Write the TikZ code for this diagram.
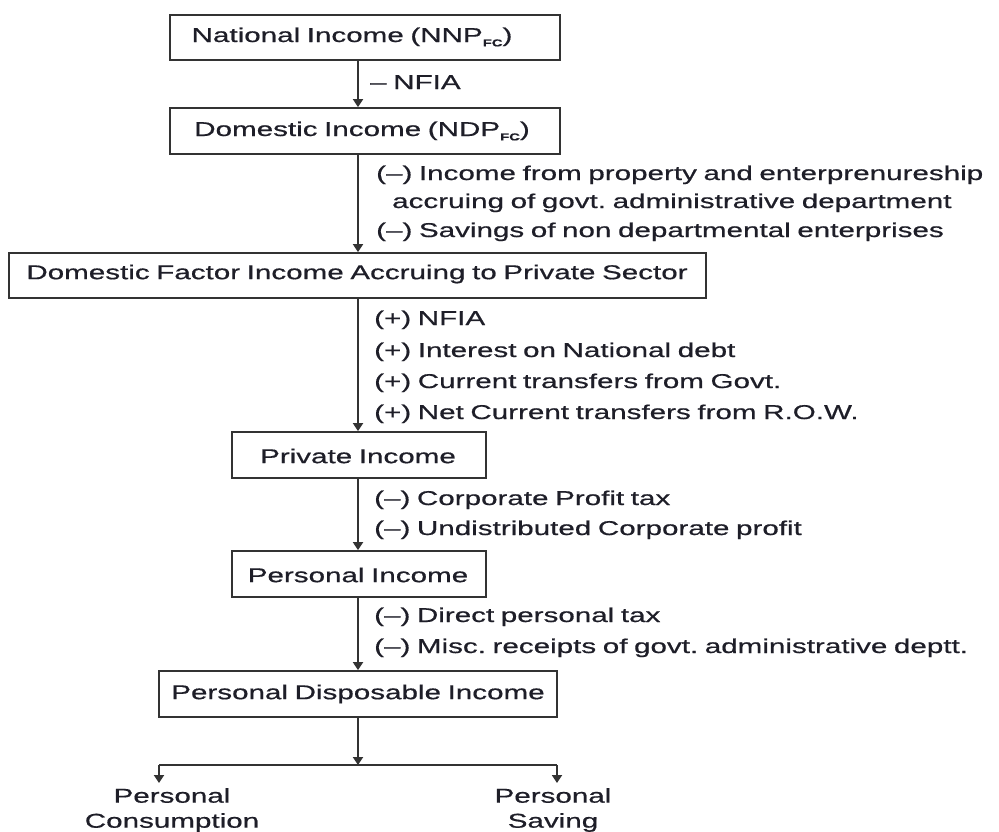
\documentclass[tikz,border=0pt]{standalone}
\usepackage{fontspec}
\setmainfont[FakeStretch=1.48,FakeBold=0.6,WordSpace=0.8]{Liberation Sans}
\usetikzlibrary{arrows.meta}
\definecolor{ink}{HTML}{1E1E28}
\definecolor{linec}{HTML}{333333}
\newcommand{\fcsub}{\raisebox{-0.22em}{\fontsize{10}{10}\selectfont\bfseries FC}}
\frenchspacing
\begin{document}
\begin{tikzpicture}[x=1pt,y=-1pt,
  box/.style={draw=linec,line width=1.8pt,inner sep=0pt,fill=white},
  txt/.style={text=ink,font=\fontsize{20}{20}\selectfont,inner sep=0pt},
  note/.style={txt,anchor=base west},
  arr/.style={draw=linec,line width=1.8pt,-{Triangle[width=10pt,length=8pt]}},
  ln/.style={draw=linec,line width=1.8pt}]
\useasboundingbox (0,0) rectangle (999,831);
\coordinate (axis) at (358,0);
% boxes
\node[box,minimum width=390pt,minimum height=45pt] (b1) at (365,37.5) {};
\node[box,minimum width=390pt,minimum height=46pt] (b2) at (365,131) {};
\node[box,minimum width=697pt,minimum height=45pt] (b3) at (357.5,275.5) {};
\node[box,minimum width=254pt,minimum height=46pt] (b4) at (359,455) {};
\node[box,minimum width=254pt,minimum height=46pt] (b5) at (359,574) {};
\node[box,minimum width=398pt,minimum height=46pt] (b6) at (358,694) {};
% box texts
\node[txt] (t1) at (352,37) {National Income (NNP\fcsub)};
\node[txt] (t2) at (362,131) {Domestic Income (NDP\fcsub)};
\node[txt] (t3) at (357,274) {Domestic Factor Income Accruing to Private Sector};
\node[txt] (t4) at (358,456) {Private Income};
\node[txt] (t5) at (358,575) {Personal Income};
\node[txt] (t6) at (358,694) {Personal Disposable Income};
% arrows
\draw[arr] (b1.south -| axis) -- (b2.north -| axis);
\draw[arr] (b2.south -| axis) -- (b3.north -| axis);
\draw[arr] (b3.south -| axis) -- (b4.north -| axis);
\draw[arr] (b4.south -| axis) -- (b5.north -| axis);
\draw[arr] (b5.south -| axis) -- (b6.north -| axis);
% notes
\node[note] (n0) at (370,89) {– NFIA};
\node[note] (n1) at (376,180) {(–) Income from property and enterprenureship};
\node[note] (n2) at (392,208) {accruing of govt. administrative department};
\node[note] (n3) at (376,237) {(–) Savings of non departmental enterprises};
\node[note] (n4) at (374,325) {(+) NFIA};
\node[note] (n5) at (374,357) {(+) Interest on National debt};
\node[note] (n6) at (374,388) {(+) Current transfers from Govt.};
\node[note] (n7) at (374,419) {(+) Net Current transfers from R.O.W.};
\node[note] (n8) at (374,505) {(–) Corporate Profit tax};
\node[note] (n9) at (374,535) {(–) Undistributed Corporate profit};
\node[note] (n10) at (374,622) {(–) Direct personal tax};
\node[note] (n11) at (374,653) {(–) Misc. receipts of govt. administrative deptt.};
% split
\coordinate (j) at (358,765);
\coordinate (jl) at (159,765);
\coordinate (jr) at (557,765);
\node[txt,align=center,font=\fontsize{20}{25}\selectfont] (pc) at (172,810) {Personal\\Consumption};
\node[txt,align=center,font=\fontsize{20}{25}\selectfont] (ps) at (553,810) {Personal\\Saving};
\draw[arr] (b6.south -| axis) -- (j);
\draw[ln] (jl) -- (jr);
\draw[arr] (jl) -- ++(0,18);
\draw[arr] (jr) -- ++(0,18);
\end{tikzpicture}
\end{document}
